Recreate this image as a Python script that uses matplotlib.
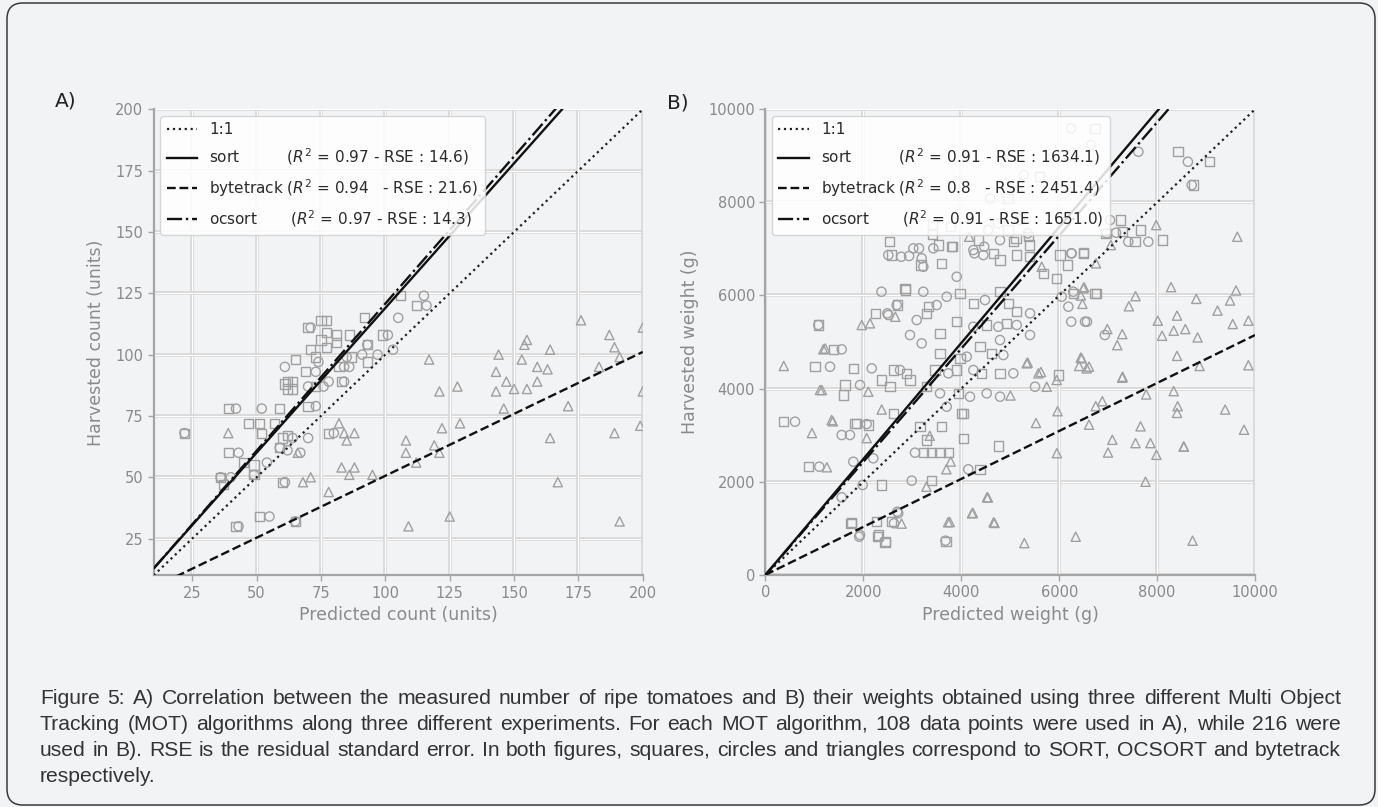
import matplotlib
matplotlib.use("Agg")
import matplotlib.pyplot as plt
import numpy as np
from matplotlib.patches import FancyBboxPatch
from matplotlib.transforms import IdentityTransform

W, H = 1378, 807
BG = "#f2f3f5"

# ---- panel A : counts (units) ----
sort_A = [(22, 68), (39, 78), (47, 72), (51, 72), (52, 68), (57, 72), (39, 60), (36, 50), (37, 47),
          (42, 30), (51, 34), (65, 32), (60, 48), (78, 68), (49, 51), (45, 56), (60, 66), (62, 67),
          (59, 62), (49, 55), (70, 111), (75, 114), (77, 114), (77, 109), (92, 115), (106, 124),
          (112, 120), (99, 108), (93, 104), (81, 108), (86, 108), (75, 106), (81, 105), (71, 102),
          (77, 103), (65, 98), (73, 99), (87, 99), (82, 95), (93, 97), (69, 93), (62, 89), (64, 89),
          (62, 86), (64, 86), (73, 87), (83, 89), (70, 79), (59, 78), (61, 88)]
ocsort_A = [(22, 68), (42, 78), (52, 78), (43, 60), (40, 50), (43, 30), (55, 34), (65, 32), (61, 48),
            (80, 68), (49, 51), (54, 56), (64, 66), (59, 62), (62, 61), (70, 66), (67, 60), (71, 111),
            (115, 124), (116, 120), (105, 115), (101, 108), (93, 104), (97, 100), (103, 102), (91, 100),
            (86, 95), (61, 95), (73, 93), (76, 87), (84, 89), (78, 89), (73, 79), (85, 99), (74, 97),
            (84, 95), (36, 50), (70, 87)]
bytetrack_A = [(39, 68), (68, 48), (71, 50), (78, 44), (83, 54), (86, 51), (88, 54), (95, 51), (82, 72),
               (84, 68), (88, 68), (85, 65), (108, 65), (108, 60), (112, 56), (109, 30), (117, 98),
               (121, 85), (122, 70), (119, 63), (121, 60), (125, 34), (128, 87), (129, 72), (176, 114),
               (200, 111), (187, 108), (189, 103), (191, 99), (183, 95), (155, 106), (154, 104),
               (164, 102), (144, 100), (153, 98), (143, 93), (159, 95), (163, 94), (147, 89), (150, 86),
               (159, 89), (155, 86), (143, 85), (146, 78), (171, 79), (164, 66), (189, 68), (199, 71),
               (200, 85), (167, 48), (191, 32), (66, 60)]
# fitted lines (slope, intercept)
fit_A = {"sort": (1.18, 1.0), "bytetrack": (0.505, 0.1), "ocsort": (1.2, 0.8)}
stats_A = {"sort": "(0.97 - RSE : 14.6)", "bytetrack": "(0.94   - RSE : 21.6)", "ocsort": "(0.97 - RSE : 14.3)"}

# ---- panel B : weights (g) ----
sort_B = [(1011, 4470), (364, 3289), (874, 2322), (1794, 4435), (1624, 4077), (1590, 3862), (1863, 3254),
          (1761, 1119), (2272, 1141), (2578, 1141), (2304, 855), (2441, 690), (2374, 1929), (3395, 2022),
          (3224, 2623), (3395, 2623), (3565, 2623), (3735, 2623), (3156, 3181), (3600, 3181), (3293, 2895),
          (4041, 3469), (4041, 2932), (4382, 2266), (3688, 711), (4756, 2767), (2611, 3469), (2288, 818),
          (2458, 711), (1747, 1106), (1077, 5366), (2247, 5617), (2690, 5795), (2854, 6118), (2529, 7155),
          (2571, 6869), (3177, 6655), (3541, 7084), (3823, 7048), (3418, 7320), (3782, 7477), (4954, 7406),
          (5116, 7228), (5397, 7084), (5397, 6833), (6166, 6655), (6489, 6906), (7256, 7621), (7295, 7370),
          (7659, 7406), (8104, 7191), (6731, 6046), (8427, 9088), (9073, 8873), (8750, 8373), (6731, 9591),
          (5600, 8552), (4954, 8088), (6956, 7335), (7549, 7155), (6493, 6919), (6017, 6869), (5676, 6476),
          (6289, 6046), (6767, 6046), (3600, 6691), (3804, 7048), (4347, 7191), (4654, 6906), (4791, 6762),
          (5063, 7155), (5132, 6869), (5369, 7262), (2850, 6154), (1385, 4843), (1828, 3254), (2100, 3218),
          (2374, 4184), (3326, 5759), (3974, 6046), (4246, 5832), (4791, 6081), (4961, 5832), (5132, 5651),
          (5949, 6369), (3293, 5617), (3906, 5437), (3565, 5187), (4519, 5366), (4927, 5402), (3565, 4758),
          (3974, 4650), (4382, 4900), (4621, 4758), (5982, 4292), (2611, 4399), (2884, 4328), (2543, 4040),
          (2952, 4184), (3463, 4399), (3906, 4399), (4417, 4328), (4791, 4328), (3293, 4040), (3940, 3898),
          (4008, 3469), (3418, 7513)]
ocsort_B = [(603, 3289), (1099, 2322), (1318, 4470), (1079, 5366), (2170, 4435), (1931, 4077), (2067, 3239),
            (1557, 3003), (1726, 3003), (1794, 2429), (1985, 1929), (1557, 1665), (1931, 855), (2693, 1355),
            (2987, 2022), (2202, 2502), (3054, 2623), (4143, 2266), (1914, 818), (2625, 1106), (2711, 1321),
            (3677, 733), (2490, 5617), (2368, 6081), (2773, 6833), (2933, 6848), (3136, 7013), (4268, 6906),
            (4468, 7048), (4550, 7406), (4752, 7550), (5195, 7621), (5357, 7335), (6245, 6906), (6973, 7335),
            (7821, 7155), (6286, 6081), (6245, 5437), (6568, 5437), (6932, 5151), (8629, 8873), (7617, 9088),
            (6245, 9591), (6650, 9232), (5277, 8588), (4591, 8088), (7038, 7621), (7161, 7349), (7412, 7155),
            (6051, 5974), (2509, 6869), (3020, 7013), (3191, 6798), (3224, 6618), (3428, 7013), (3906, 6403),
            (4246, 6977), (4450, 6869), (4791, 7191), (6256, 6906), (2680, 5795), (2509, 5580), (1557, 4843),
            (3224, 6081), (3497, 5795), (3702, 5974), (4484, 5903), (5404, 5617), (5404, 5151), (6187, 5759),
            (6527, 5437), (3089, 5473), (4246, 5329), (4757, 5329), (5132, 5366), (4791, 5043), (2952, 5151),
            (3191, 4972), (4111, 4685), (4859, 4721), (2748, 4399), (3735, 4328), (4246, 4399), (5063, 4328),
            (3565, 3898), (4178, 3826), (4519, 3898), (4791, 3826), (3702, 3611), (5506, 4040), (8707, 8373)]
bytetrack_B = [(373, 4486), (1153, 3968), (949, 3045), (1376, 3297), (1220, 4861), (1254, 2310), (1966, 5366),
               (2135, 5402), (2068, 2937), (2373, 3550), (2652, 5544), (2780, 1099), (3288, 1892), (3356, 2987),
               (3695, 2267), (3783, 2433), (3763, 1135), (4237, 1330), (4543, 1661), (4678, 1114), (5288, 681),
               (3729, 1128), (4219, 1321), (4525, 1665), (4660, 1128), (6337, 818), (8725, 733), (5003, 3852),
               (5627, 4357), (5356, 4559), (5966, 3514), (5953, 2613), (5526, 3261), (6441, 4667), (6610, 4472),
               (6407, 4486), (6881, 3730), (6746, 3622), (6610, 3225), (6997, 2627), (7085, 2901), (7288, 4234),
               (7559, 2829), (7661, 3189), (7864, 2829), (7986, 2577), (7763, 2000), (7777, 3874), (8339, 3946),
               (8420, 3622), (8407, 3478), (8542, 2757), (9390, 3550), (9776, 3117), (9865, 4501), (8868, 4486),
               (8407, 4703), (8014, 5459), (8102, 5135), (8339, 5243), (8576, 5279), (8827, 5099), (8407, 5568),
               (8285, 6180), (8800, 5928), (9234, 5676), (9491, 5892), (9613, 6108), (9545, 5387), (9865, 5459),
               (7559, 5986), (7424, 5769), (6983, 5279), (7288, 5171), (7186, 4933), (6475, 5820), (6441, 6000),
               (6508, 6180), (9639, 7262), (7982, 7513), (4162, 7262), (6493, 6154), (6752, 6691), (5643, 6618),
               (6460, 4650), (6562, 4435), (5336, 4543), (5574, 4328), (5745, 4040), (5949, 4184), (2100, 3933),
               (1113, 3970), (1181, 4843), (1352, 3325), (7054, 7084), (7295, 4255), (8548, 2752)]
fit_B = {"sort": (1.245, 0.0), "bytetrack": (0.515, 0.0), "ocsort": (1.215, 0.0)}
stats_B = {"sort": "(0.91 - RSE : 1634.1)", "bytetrack": "(0.8   - RSE : 2451.4)", "ocsort": "(0.91 - RSE : 1651.0)"}

name_pad = {"sort": "sort          ", "bytetrack": "bytetrack ", "ocsort": "ocsort       "}
line_style = {"sort": "-", "bytetrack": "--", "ocsort": "-."}

caption = [
    "Figure 5: A) Correlation between the measured number of ripe tomatoes and B) their weights obtained using three different Multi Object",
    "Tracking (MOT) algorithms along three different experiments. For each MOT algorithm, 108 data points were used in A), while 216 were",
    "used in B). RSE is the residual standard error. In both figures, squares, circles and triangles correspond to SORT, OCSORT and bytetrack",
    "respectively.",
]

fig = plt.figure(figsize=(W / 100, H / 100), dpi=100, facecolor=BG)

# rounded frame around the whole figure block
frame = FancyBboxPatch((7, H - 805), 1368, 802, boxstyle="round,pad=0,rounding_size=16",
                       transform=IdentityTransform(), facecolor=BG, edgecolor="#3a3a3a", lw=1.1, zorder=-5)
fig.add_artist(frame)

GRID = "#d6d6d6"
TICK = "#8a8a8a"


def panel(rect, pts, fits, stats, lim, ticks, xlabel, ylabel):
    ax = fig.add_axes(rect)
    ax.set_facecolor(BG)
    ax.set_xlim(lim)
    ax.set_ylim(lim)
    ax.set_xticks(ticks)
    ax.set_yticks(ticks)
    for t in ticks:
        for lw, c in ((2.6, GRID), (0.9, "white")):
            ax.axvline(t, color=c, lw=lw, zorder=0)
            ax.axhline(t, color=c, lw=lw, zorder=0)
    for s in ("top", "right"):
        ax.spines[s].set_visible(False)
    for s in ("left", "bottom"):
        ax.spines[s].set_color("#a5a5a5")
        ax.spines[s].set_linewidth(1.6)
    ax.tick_params(direction="out", length=4, width=1, color="#a5a5a5",
                   labelcolor=TICK, labelsize=10.5)
    ax.set_xlabel(xlabel, fontsize=12.5, color=TICK, labelpad=4)
    ax.set_ylabel(ylabel, fontsize=12.5, color=TICK, labelpad=7)

    markers = {"sort": "s", "ocsort": "o", "bytetrack": "^"}
    for name in ("sort", "ocsort", "bytetrack"):
        xy = np.array(pts[name], dtype=float)
        ax.scatter(xy[:, 0], xy[:, 1], marker=markers[name], s=44, facecolors="none",
                   edgecolors="#a0a0a0", linewidths=1.0, zorder=2)

    xs = np.array(lim, dtype=float)
    ax.plot(xs, xs, ls=":", color="#222222", lw=1.6, zorder=3, label="1:1")
    for name in ("sort", "bytetrack", "ocsort"):
        m, b = fits[name]
        lab = name_pad[name] + "($R^2$ = " + stats[name][1:]
        ax.plot(xs, m * xs + b, ls=line_style[name], color="#111111", lw=1.7, zorder=3, label=lab)

    leg = ax.legend(loc="upper left", fontsize=11, framealpha=0.85, facecolor="white",
                    edgecolor="#d0d0d0", labelspacing=0.62, borderaxespad=0.45,
                    handlelength=2.0, handletextpad=0.8)
    for t in leg.get_texts():
        t.set_color("#2a2a2a")
    leg.set_zorder(5)
    return ax


axA = panel([153.6 / W, 1 - 575.4 / H, 489.2 / W, 466.1 / H],
            {"sort": sort_A, "ocsort": ocsort_A, "bytetrack": bytetrack_A},
            fit_A, stats_A, (10, 200), [25, 50, 75, 100, 125, 150, 175, 200],
            "Predicted count (units)", "Harvested count (units)")
axB = panel([765.5 / W, 1 - 574.8 / H, 489.5 / W, 465.5 / H],
            {"sort": sort_B, "ocsort": ocsort_B, "bytetrack": bytetrack_B},
            fit_B, stats_B, (0, 10000), [0, 2000, 4000, 6000, 8000, 10000],
            "Predicted weight (g)", "Harvested weight (g)")

fig.text(66 / W, 1 - 101 / H, "A)", fontsize=14.5, color="#222222", ha="center", va="center")
fig.text(678 / W, 1 - 103 / H, "B)", fontsize=14.5, color="#222222", ha="center", va="center")

# justified caption
renderer = fig.canvas.get_renderer()
cap_kw = dict(fontsize=15.2, color="#333333", family=["Liberation Sans", "DejaVu Sans"],
              ha="left", va="center")
x_left, x_right = 40, 1341
probe = fig.text(0, 0, "a a", **cap_kw)
probe2 = fig.text(0, 0, "aa", **cap_kw)
space_w = probe.get_window_extent(renderer).width - probe2.get_window_extent(renderer).width
probe.remove()
probe2.remove()
for i, line in enumerate(caption):
    y = 1 - (698 + i * 26.2) / H
    words = line.split()
    texts = [fig.text(0, y, w, **cap_kw) for w in words]
    widths = [t.get_window_extent(renderer).width for t in texts]
    if i < len(caption) - 1:
        gap = max(space_w, (x_right - x_left - sum(widths)) / (len(words) - 1))
    else:
        gap = space_w
    x = x_left
    for t, w in zip(texts, widths):
        t.set_x(x / W)
        x += w + gap

fig.savefig("out.png", dpi=100, facecolor=BG)
